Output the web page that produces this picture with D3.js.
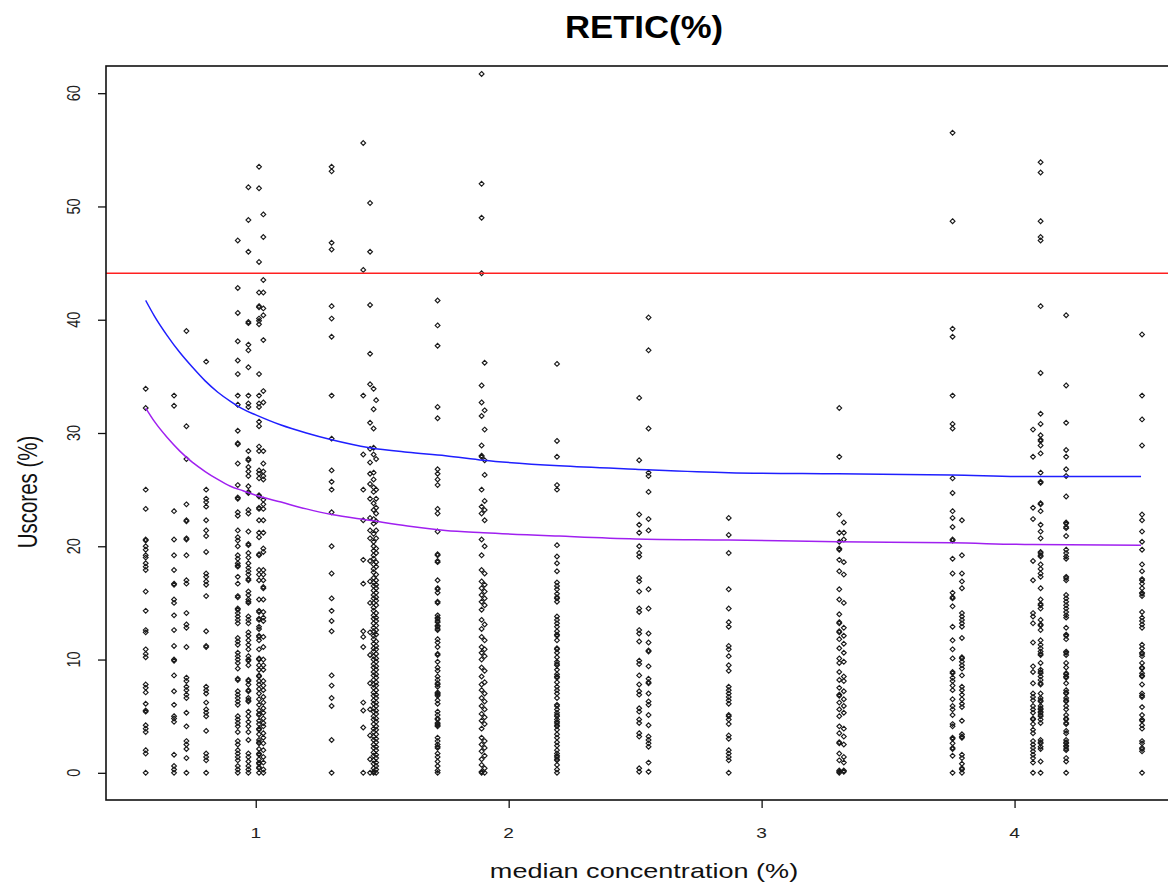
<!DOCTYPE html>
<html>
<head>
<meta charset="utf-8">
<script src="https://cdn.jsdelivr.net/npm/d3@7"></script>
<style>
  body { margin: 0; background: #fff; }
  svg { display: block; }
  text { font-family: "Liberation Sans", Arial, sans-serif; }
</style>
</head>
<body>
<svg id="chart" width="1168" height="883"></svg>
<script>
// ---- data: one array of Uscores per median-concentration group ----
const colX = [0.565, 0.677, 0.726, 0.804, 0.929, 0.971, 1.013, 1.030, 1.300, 1.425,
              1.452, 1.466, 1.476, 1.719, 1.893, 1.905, 2.191, 2.516, 2.553, 2.870,
              3.307, 3.325, 3.755, 3.792, 4.073, 4.103, 4.204, 4.504];

const g0565 = [33.9, 32.2, 25.0, 23.3, 20.5, 20.6, 20.0, 19.7, 19.2, 19.0, 18.5, 18.2, 17.9, 16.0, 14.3, 12.6, 12.4, 10.9, 10.5, 10.2, 7.8, 7.5, 7.1, 6.1, 5.4, 5.5, 4.2, 3.9, 3.6, 2.0, 1.7, 0.0];
const g0677 = [33.3, 32.4, 23.1, 20.6, 19.2, 17.9, 16.6, 16.7, 15.3, 15.0, 13.9, 12.6, 11.2, 9.9, 10.0, 8.6, 7.2, 6.0, 5.0, 4.8, 4.5, 1.6, 0.6, 0.3, 0.0];
const g0726 = [39.0, 30.6, 27.7, 23.7, 22.2, 22.3, 20.6, 20.7, 19.2, 17.0, 16.7, 14.1, 13.1, 12.8, 11.1, 8.4, 8.1, 7.6, 7.3, 6.9, 6.6, 5.3, 4.1, 2.8, 2.5, 2.1, 1.3, 0.0];
const g0804 = [36.3, 25.0, 24.2, 23.9, 23.5, 22.3, 21.4, 20.9, 19.5, 17.6, 17.3, 16.9, 16.6, 15.6, 12.5, 11.1, 11.2, 7.6, 7.3, 7.0, 6.2, 5.6, 5.3, 5.0, 3.7, 1.7, 1.4, 1.1, 0.0];
const g0929 = [47.0, 42.8, 40.6, 38.1, 36.4, 35.2, 33.3, 32.5, 30.2, 29.0, 29.1, 27.3, 25.4, 24.2, 24.3, 23.0, 22.7, 21.4, 20.8, 20.5, 20.0, 19.2, 18.9, 18.5, 18.2, 18.3, 17.3, 16.7, 15.5, 15.6, 14.4, 14.5, 14.1, 13.8, 13.5, 13.2, 11.9, 11.6, 11.3, 10.6, 10.3, 10.0, 9.7, 9.2, 8.2, 8.3, 7.2, 6.9, 6.6, 6.3, 6.0, 5.0, 4.7, 4.4, 4.1, 3.6, 2.8, 2.5, 2.0, 1.7, 1.4, 1.1, 0.6, 0.3, 0.0];
const g0971 = [51.7, 48.8, 46.0, 39.7, 39.8, 37.8, 37.3, 35.8, 33.3, 32.6, 32.3, 28.4, 27.6, 27.7, 27.0, 26.6, 26.2, 25.3, 24.7, 24.8, 23.2, 22.9, 21.3, 20.1, 20.2, 19.4, 19.0, 18.5, 18.1, 17.8, 17.5, 17.0, 17.1, 16.0, 15.7, 15.3, 15.0, 15.1, 13.8, 13.5, 13.2, 12.4, 12.1, 11.7, 11.3, 10.9, 10.3, 9.9, 10.0, 9.5, 8.1, 8.2, 7.8, 7.2, 7.3, 6.6, 6.3, 6.4, 5.4, 5.0, 4.5, 4.1, 3.6, 2.9, 1.7, 1.4, 1.0, 0.6, 0.3, 0.0];
const g1013 = [53.5, 51.6, 45.1, 42.4, 41.1, 41.2, 40.1, 39.9, 39.6, 35.2, 33.3, 32.6, 32.3, 31.0, 30.6, 28.8, 28.4, 26.7, 26.4, 26.0, 24.4, 24.5, 23.3, 23.4, 22.3, 21.2, 20.8, 19.2, 19.3, 17.9, 17.5, 17.0, 15.3, 14.2, 14.3, 13.5, 13.6, 12.9, 12.7, 12.0, 12.1, 11.7, 10.9, 10.0, 10.1, 9.5, 9.1, 8.5, 8.6, 8.1, 7.8, 7.4, 7.0, 6.5, 6.0, 5.5, 5.1, 5.2, 4.6, 4.3, 3.8, 3.9, 3.4, 2.9, 2.6, 2.7, 2.1, 1.6, 1.7, 1.2, 0.8, 0.9, 0.4, 0.5, 0.0];
const g1030 = [49.3, 47.3, 43.5, 42.4, 41.0, 40.4, 38.2, 33.7, 32.7, 28.4, 27.3, 26.6, 26.2, 25.9, 24.1, 23.7, 23.3, 22.3, 21.2, 19.8, 19.5, 17.9, 17.5, 17.0, 16.3, 16.4, 15.3, 14.2, 13.7, 13.4, 12.0, 11.1, 10.0, 9.5, 9.1, 8.1, 7.7, 7.3, 6.7, 6.2, 5.7, 5.3, 4.8, 4.4, 4.1, 3.5, 3.1, 2.6, 2.0, 1.4, 0.9, 0.3, 0.0];
const g1300 = [53.5, 53.1, 46.8, 46.2, 41.2, 40.1, 38.5, 33.3, 29.5, 26.7, 25.7, 25.0, 23.0, 20.0, 17.6, 15.4, 14.3, 13.4, 12.5, 8.6, 7.7, 6.6, 5.9, 2.9, 0.0];
const g1425 = [55.6, 44.4, 33.3, 28.1, 25.0, 22.3, 18.8, 16.7, 12.5, 12.0, 11.1, 6.2, 5.5, 4.0, 0.0];
const g1452 = [50.3, 46.0, 41.3, 37.0, 34.3, 30.9, 28.6, 27.4, 26.4, 25.5, 24.2, 22.5, 21.4, 20.7, 18.7, 16.9, 15.0, 12.4, 10.4, 7.9, 5.6, 3.3, 1.2, 0.0];
const g1466 = [33.9, 32.1, 30.4, 28.7, 28.1, 26.5, 25.9, 25.2, 24.8, 23.8, 23.2, 22.4, 22.0, 21.1, 20.4, 20.0, 19.6, 19.2, 18.9, 18.4, 18.0, 17.7, 17.2, 16.8, 16.5, 16.1, 15.7, 15.4, 15.0, 14.6, 14.3, 13.9, 13.6, 13.2, 12.8, 12.5, 12.1, 11.8, 11.4, 11.0, 10.7, 10.3, 10.0, 9.6, 9.3, 8.9, 8.6, 8.2, 7.8, 7.5, 7.1, 6.8, 6.4, 6.1, 5.7, 5.4, 5.0, 4.7, 4.3, 3.9, 3.6, 3.2, 2.9, 2.5, 2.2, 1.8, 1.5, 1.1, 0.8, 0.4, 0.1, 0.0];
const g1476 = [32.9, 27.7, 25.0, 24.2, 23.4, 22.9, 22.2, 21.4, 20.7, 19.8, 19.4, 18.6, 18.2, 17.5, 17.0, 16.6, 16.3, 15.9, 15.5, 15.2, 14.8, 14.1, 13.7, 13.4, 13.0, 12.6, 12.2, 11.6, 11.2, 10.9, 10.5, 10.1, 9.8, 9.4, 9.1, 8.7, 8.4, 8.0, 7.7, 7.3, 6.9, 6.6, 6.2, 5.9, 5.5, 5.2, 4.8, 4.5, 4.1, 3.8, 3.4, 3.0, 2.7, 2.3, 2.0, 1.6, 1.3, 0.9, 0.6, 0.3, 0.0];
const g1719 = [41.7, 39.5, 37.7, 32.3, 31.3, 26.8, 26.4, 25.9, 25.4, 23.3, 22.9, 21.3, 19.2, 19.3, 18.6, 18.7, 17.0, 16.2, 16.3, 15.9, 15.0, 15.1, 13.9, 13.6, 13.7, 13.3, 13.4, 12.9, 13.0, 12.6, 12.7, 11.8, 11.5, 11.1, 10.4, 10.5, 9.8, 9.3, 9.0, 8.5, 8.2, 7.8, 7.9, 7.6, 7.0, 7.1, 6.8, 6.9, 6.4, 6.1, 5.4, 5.1, 4.7, 4.8, 4.3, 4.4, 4.1, 4.2, 3.1, 2.8, 2.5, 2.2, 2.3, 1.7, 1.4, 1.0, 0.6, 0.2, 0.0];
const g1893 = [61.7, 52.0, 49.0, 44.1, 34.2, 32.7, 31.5, 28.9, 27.9, 28.0, 25.0, 23.5, 22.9, 20.6, 19.2, 17.9, 16.9, 16.3, 15.7, 15.1, 14.4, 13.5, 12.7, 12.0, 11.1, 10.6, 10.0, 9.3, 8.5, 7.8, 7.3, 6.6, 5.9, 5.2, 4.6, 3.9, 3.1, 2.5, 1.9, 1.2, 0.7, 0.1, 0.0];
const g1905 = [36.2, 32.0, 30.3, 27.6, 26.3, 24.0, 23.2, 22.3, 20.0, 17.6, 16.6, 16.0, 15.4, 14.8, 13.1, 11.7, 10.9, 10.3, 9.0, 8.0, 7.0, 6.3, 5.6, 4.9, 4.3, 2.8, 2.2, 1.5, 0.4, 0.0];
const g2191 = [36.1, 29.3, 27.9, 25.4, 25.0, 20.1, 19.1, 18.5, 17.8, 16.8, 16.5, 16.2, 15.8, 15.4, 15.5, 15.1, 13.8, 13.5, 13.2, 12.9, 12.5, 12.1, 12.2, 11.7, 10.9, 11.0, 10.6, 10.2, 9.8, 9.5, 9.6, 9.1, 8.7, 8.4, 8.5, 8.0, 7.6, 7.3, 7.0, 6.6, 5.9, 6.0, 5.6, 5.3, 5.0, 5.1, 4.7, 4.4, 4.5, 4.1, 4.2, 3.8, 3.4, 3.1, 2.7, 2.4, 2.0, 1.7, 1.4, 1.5, 1.1, 1.2, 0.7, 0.3, 0.0];
const g2516 = [33.1, 27.6, 22.8, 21.9, 21.2, 20.0, 19.4, 19.1, 17.2, 16.9, 16.0, 14.5, 14.2, 12.6, 12.3, 11.6, 9.9, 9.6, 8.6, 7.8, 7.2, 6.9, 5.7, 5.4, 4.7, 4.4, 3.5, 3.2, 0.4, 0.1];
const g2553 = [40.2, 37.3, 30.4, 26.5, 26.2, 24.8, 22.4, 21.4, 16.2, 14.5, 12.3, 11.5, 10.7, 10.8, 9.4, 8.3, 7.9, 8.0, 7.0, 6.3, 6.0, 5.1, 4.2, 3.2, 2.9, 2.6, 2.3, 0.9, 0.1];
const g2870 = [22.5, 21.0, 19.4, 16.2, 14.5, 13.3, 12.9, 11.2, 10.9, 10.3, 9.5, 9.0, 7.6, 7.3, 7.0, 6.7, 6.4, 6.1, 5.0, 5.1, 4.7, 4.3, 3.3, 3.0, 2.0, 1.7, 1.4, 1.1, 0.0];
const g3307 = [32.2, 27.9, 22.8, 21.2, 20.4, 19.8, 19.7, 18.8, 17.8, 16.2, 15.3, 14.0, 13.2, 13.3, 12.4, 12.5, 11.8, 11.0, 10.1, 9.7, 8.9, 8.2, 7.5, 6.8, 6.9, 6.2, 5.6, 5.0, 4.1, 3.5, 2.6, 2.7, 1.7, 1.1, 0.1, 0.0, 0.2];
const g3325 = [22.1, 21.2, 20.6, 18.6, 17.5, 15.0, 12.8, 12.1, 11.4, 10.6, 9.8, 8.5, 8.1, 7.2, 6.5, 5.9, 5.3, 3.9, 3.2, 2.5, 1.4, 0.9, 0.1, 0.2];
const g3755 = [56.5, 48.7, 39.2, 38.5, 33.3, 30.8, 30.4, 26.0, 24.7, 23.1, 22.5, 21.7, 20.5, 20.6, 18.9, 17.6, 15.9, 15.4, 15.5, 14.7, 12.9, 11.7, 10.9, 10.1, 8.8, 8.9, 8.4, 8.1, 7.7, 7.3, 6.5, 5.9, 5.6, 5.1, 4.3, 4.1, 3.0, 3.1, 2.6, 2.1, 2.2, 1.5, 0.0];
const g3792 = [22.3, 19.2, 17.6, 16.9, 16.3, 14.1, 13.8, 13.5, 13.2, 12.9, 11.9, 10.1, 10.2, 9.8, 9.5, 9.2, 8.6, 7.6, 7.3, 6.9, 6.5, 6.1, 5.8, 4.6, 3.4, 3.1, 3.2, 1.6, 1.3, 0.8, 0.3, 0.4, 0.0];
const g4073 = [30.3, 27.9, 23.4, 22.4, 18.7, 17.0, 14.1, 13.8, 13.2, 11.5, 9.4, 8.9, 7.9, 7.0, 6.7, 6.4, 5.9, 5.6, 5.3, 4.7, 4.8, 4.3, 3.8, 3.5, 2.8, 2.5, 2.2, 1.9, 1.6, 1.3, 0.9, 0.0];
const g4103 = [53.9, 53.0, 48.7, 47.3, 47.0, 41.2, 35.3, 31.7, 30.8, 29.8, 29.3, 29.4, 28.9, 28.2, 26.5, 25.6, 25.7, 23.7, 23.8, 23.1, 21.9, 21.3, 20.7, 19.5, 19.2, 19.4, 19.1, 18.4, 18.0, 17.6, 17.3, 16.3, 15.3, 14.8, 14.9, 14.5, 13.5, 13.0, 13.1, 12.6, 11.7, 11.3, 11.0, 10.7, 10.4, 10.5, 9.7, 9.1, 8.8, 8.9, 8.5, 8.2, 7.8, 7.9, 7.0, 6.6, 6.3, 6.4, 5.9, 5.6, 5.7, 5.3, 5.4, 5.0, 5.1, 4.7, 4.4, 2.9, 2.6, 2.7, 2.3, 2.1, 1.0, 0.0];
const g4204 = [40.4, 34.2, 30.9, 28.5, 27.9, 26.8, 26.2, 24.4, 22.0, 22.1, 21.6, 21.7, 20.9, 19.4, 18.9, 19.7, 19.1, 17.2, 17.3, 17.0, 15.7, 15.4, 15.1, 14.8, 14.5, 14.2, 13.9, 13.7, 12.8, 12.1, 12.2, 11.8, 10.6, 10.7, 10.4, 9.7, 9.3, 8.7, 8.8, 8.4, 8.5, 7.9, 7.3, 7.0, 7.1, 6.6, 6.3, 6.4, 5.9, 5.6, 5.1, 4.7, 4.8, 4.3, 4.4, 3.7, 3.5, 2.9, 2.6, 2.7, 2.3, 2.4, 2.0, 2.1, 1.3, 1.0, 0.0];
const g4504 = [38.7, 33.3, 31.2, 28.9, 22.8, 22.3, 21.3, 20.4, 19.7, 18.4, 17.8, 17.0, 17.1, 16.7, 16.3, 15.8, 15.9, 15.6, 14.2, 13.7, 13.4, 13.1, 12.8, 11.3, 11.0, 10.5, 10.6, 10.3, 9.7, 9.2, 9.3, 8.8, 8.5, 8.6, 7.8, 7.0, 6.7, 6.8, 5.8, 5.1, 4.6, 4.7, 4.2, 3.9, 2.8, 2.6, 2.1, 2.2, 1.9, 0.0];

const groups = [g0565, g0677, g0726, g0804, g0929, g0971, g1013, g1030, g1300, g1425,
                g1452, g1466, g1476, g1719, g1893, g1905, g2191, g2516, g2553, g2870,
                g3307, g3325, g3755, g3792, g4073, g4103, g4204, g4504];

// fitted reference curves (upper and lower) and the fixed cut-off
const fitX     = [0.565, 0.60, 0.65, 0.70, 0.75, 0.80, 0.85, 0.90, 0.95, 1.00, 1.10, 1.20, 1.30, 1.45, 1.60, 1.75, 1.90, 2.20, 2.50, 2.87, 3.30, 3.75, 4.07, 4.50];
const fitUpper = [41.7, 40.3, 38.6, 37.1, 35.8, 34.6, 33.6, 32.8, 32.1, 31.6, 30.7, 30.0, 29.4, 28.7, 28.3, 28.0, 27.6, 27.1, 26.8, 26.5, 26.4, 26.3, 26.15, 26.15];
const fitLower = [32.2, 31.0, 29.6, 28.4, 27.4, 26.6, 25.9, 25.3, 24.9, 24.5, 23.9, 23.3, 22.8, 22.3, 21.8, 21.4, 21.2, 20.9, 20.65, 20.55, 20.4, 20.3, 20.15, 20.1];
const cutoff = 44.1;

const xTicks = [1, 2, 3, 4];
const yTicks = [0, 10, 20, 30, 40, 50, 60];

// ---- layout ----
const svg = d3.select("#chart");
const plot = { left: 106, right: 1182, top: 66, bottom: 800 };
const stretch = 1.32;   // text is drawn slightly wide

const x = d3.scaleLinear().domain([0.408, 4.662]).range([plot.left, plot.right]);
const y = d3.scaleLinear().domain([-2.4, 62.4]).range([plot.bottom, plot.top]);

// points
const points = [];
groups.forEach((vals, i) => vals.forEach(v => points.push({ x: colX[i], y: v })));

const diamond = "M0,-2.4L2.4,0L0,2.4L-2.4,0Z";
svg.append("g")
  .selectAll("path")
  .data(points)
  .join("path")
  .attr("d", diamond)
  .attr("transform", d => `translate(${x(d.x).toFixed(2)},${y(d.y).toFixed(2)})`)
  .attr("fill", "none")
  .attr("stroke", "#1a1a1a")
  .attr("stroke-width", 1.15);

// reference lines
svg.append("line")
  .attr("x1", plot.left).attr("x2", plot.right)
  .attr("y1", y(cutoff)).attr("y2", y(cutoff))
  .attr("stroke", "#ff2020").attr("stroke-width", 1.5);

const line = d3.line().x((d, i) => x(fitX[i])).y(d => y(d)).curve(d3.curveMonotoneX);
svg.append("path").attr("d", line(fitUpper))
  .attr("fill", "none").attr("stroke", "#1f1fff").attr("stroke-width", 1.5);
svg.append("path").attr("d", line(fitLower))
  .attr("fill", "none").attr("stroke", "#a020f0").attr("stroke-width", 1.5);

// box
svg.append("rect")
  .attr("x", plot.left).attr("y", plot.top)
  .attr("width", plot.right - plot.left).attr("height", plot.bottom - plot.top)
  .attr("fill", "none").attr("stroke", "#111").attr("stroke-width", 1.6);

// axes
const xAxis = d3.axisBottom(x).tickValues(xTicks).tickSize(8).tickFormat(d3.format("d"));
const gx = svg.append("g").attr("transform", `translate(0,${plot.bottom})`).call(xAxis);
gx.select(".domain").remove();
gx.selectAll(".tick line").attr("stroke", "#111").attr("stroke-width", 1.3);
gx.selectAll(".tick text").remove();

const yAxis = d3.axisLeft(y).tickValues(yTicks).tickSize(8);
const gy = svg.append("g").attr("transform", `translate(${plot.left},0)`).call(yAxis);
gy.select(".domain").remove();
gy.selectAll(".tick line").attr("stroke", "#111").attr("stroke-width", 1.3);
gy.selectAll(".tick text").remove();

// tick labels
svg.append("g").selectAll("text").data(xTicks).join("text")
  .attr("transform", d => `translate(${x(d)},838) scale(${stretch},1)`)
  .attr("text-anchor", "middle")
  .attr("font-size", 14.5).attr("fill", "#222")
  .text(d => d);

svg.append("g").selectAll("text").data(yTicks).join("text")
  .attr("transform", d => `translate(80,${y(d)}) scale(${stretch},1) rotate(-90)`)
  .attr("text-anchor", "middle")
  .attr("font-size", 14.5).attr("fill", "#222")
  .text(d => d);

// titles
svg.append("text")
  .attr("transform", `translate(${(plot.left + plot.right) / 2},38) scale(1.12,1)`)
  .attr("text-anchor", "middle")
  .attr("font-size", 31).attr("font-weight", "bold")
  .text("RETIC(%)");

svg.append("text")
  .attr("transform", `translate(${(plot.left + plot.right) / 2},878) scale(${stretch},1)`)
  .attr("text-anchor", "middle")
  .attr("font-size", 20.5).attr("fill", "#111")
  .text("median concentration (%)");

svg.append("text")
  .attr("transform", `translate(37,492) scale(${stretch},1) rotate(-90)`)
  .attr("text-anchor", "middle")
  .attr("font-size", 20.5).attr("fill", "#111")
  .text("Uscores (%)");
</script>
</body>
</html>
